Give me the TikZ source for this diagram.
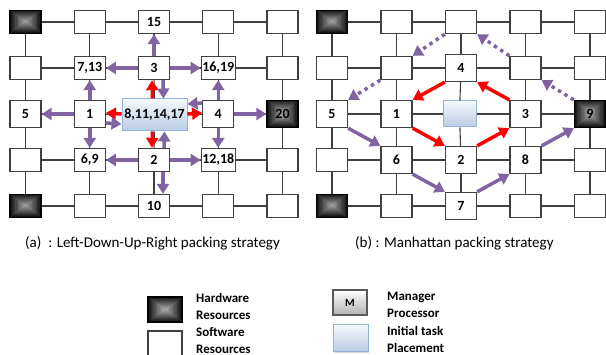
\documentclass[tikz,border=0pt]{standalone}
\usepackage{fontspec}
\setmainfont{Carlito}
\usetikzlibrary{arrows.meta,shadows}
\definecolor{arrpurple}{HTML}{8064A2}
\definecolor{initblue}{HTML}{B9CDE5}
\definecolor{initedge}{HTML}{95B3D7}

\begin{document}
\begin{tikzpicture}[x=1pt,y=-1pt,
    cell/.style={draw=black!75, line width=1.3pt, fill=white, minimum width=31pt,
      minimum height=23pt, inner sep=1pt, font=\fontsize{14}{16}\selectfont\bfseries},
    cellt/.style={cell, minimum height=27pt},
    hw/.style={cell, draw=black, path picture={
        \foreach \k in {0,...,11}
          \fill[black!\the\numexpr 92-5*\k\relax]
            ([shift={({\k*1.3pt},{-\k*1pt})}]path picture bounding box.north west) rectangle
            ([shift={({-\k*1.3pt},{\k*1pt})}]path picture bounding box.south east);}},
    hwt/.style={hw, minimum height=27pt},
    init/.style={draw=initedge, line width=1pt, top color=white!85!initblue,
      bottom color=initblue, inner sep=1pt, font=\fontsize{14}{16}\selectfont\bfseries},
    mgr/.style={draw=black!65, line width=1.2pt, top color=white, bottom color=gray!60,
      minimum width=34pt, minimum height=25pt, font=\fontsize{11}{13}\selectfont\bfseries,
      drop shadow={shadow xshift=1.2pt, shadow yshift=-1.2pt, opacity=0.35}},
    link/.style={draw=black!75, line width=1.1pt},
    parr/.style={draw=arrpurple, line width=3.5pt, -{Triangle[length=10pt,width=12pt]}},
    rarr/.style={parr, draw=red},
    darr/.style={parr, dash pattern=on 3.5pt off 4pt},
    note/.style={anchor=west, inner sep=0pt, align=left, font=\fontsize{13}{16.5}\selectfont\bfseries},
    caption/.style={anchor=west, inner sep=0pt, font=\fontsize{15}{18}\selectfont}]

    % Page
    \fill[white] (0,0) rectangle (606,355);
    \useasboundingbox (0,0) rectangle (606,355);

    % Left mesh (a)
    \foreach \c/\r/\s/\t in {1/1/hw/{}, 2/1/cell/{}, 3/1/cell/15, 4/1/cell/{}, 5/1/cell/{},
        1/2/cell/{}, 2/2/cell/{7,13}, 3/2/cell/3, 4/2/cell/{16,19}, 5/2/cell/{},
        1/3/cellt/5, 2/3/cellt/1, 4/3/cellt/4, 5/3/hwt/20,
        1/4/cell/{}, 2/4/cell/{6,9}, 3/4/cell/2, 4/4/cell/{12,18}, 5/4/cell/{},
        1/5/hw/{}, 2/5/cell/{}, 3/5/cell/10, 4/5/cell/{}, 5/5/cell/{}}
      \node[\s] (a-\c-\r) at ({25.5+64.25*(\c-1)},{22+46*(\r-1)}) {\t};
    \node[init, minimum width=65pt, minimum height=32pt] (a-3-3) at (154.5,115) {8,11,14,17};

    % Right mesh (b)
    \foreach \c/\r/\s/\t in {1/1/hw/{}, 2/1/cell/{}, 3/1/cell/{}, 4/1/cell/{}, 5/1/cell/{},
        1/2/cell/{}, 2/2/cell/{}, 3/2/cellt/4, 4/2/cell/{}, 5/2/cell/{},
        1/3/cellt/5, 2/3/cellt/1, 4/3/cellt/3, 5/3/hwt/9,
        1/4/cell/{}, 2/4/cellt/6, 3/4/cellt/2, 4/4/cellt/8, 5/4/cell/{},
        1/5/hw/{}, 2/5/cell/{}, 3/5/cellt/7, 4/5/cell/{}, 5/5/cell/{}}
      \node[\s] (b-\c-\r) at ({332+64.5*(\c-1)},{22+46*(\r-1)}) {\t};
    \node[init, minimum width=33pt, minimum height=26pt] (b-3-3) at (459.5,114) {};

    % Mesh links
    \foreach \g in {a,b}
      \foreach \c/\d in {1/2,2/3,3/4,4/5}
        \foreach \r in {1,...,5} {
          \draw[link] (\g-\c-\r) -- (\g-\d-\r);
          \draw[link] (\g-\r-\c) -- (\g-\r-\d);
        }

    % (a) first ring, from the initial placement
    \draw[rarr] ([xshift=-2pt]a-3-3.north) -- ([xshift=-2pt]a-3-2.south);
    \draw[rarr] ([yshift=1pt]a-3-3.west) -- ([yshift=1pt]a-2-3.east);
    \draw[rarr] ([yshift=1pt]a-3-3.east) -- ([yshift=1pt]a-4-3.west);
    \draw[rarr] ([xshift=-2pt]a-3-3.south) -- ([xshift=-2pt]a-3-4.north);
    % (a) back to the centre
    \draw[parr] ([xshift=9pt]a-3-2.south) -- ([xshift=9pt]a-3-3.north);
    \draw[parr] ([yshift=-9pt]a-2-3.east) -- ([yshift=-9pt]a-3-3.west);
    \draw[parr] ([yshift=11pt]a-4-3.west) -- ([yshift=11pt]a-3-3.east);
    \draw[parr] ([xshift=10pt]a-3-4.north) -- ([xshift=10pt]a-3-3.south);
    % (a) second ring
    \draw[parr] (a-3-2) -- (a-3-1);
    \draw[parr] (a-3-2) -- (a-2-2);
    \draw[parr] (a-3-2) -- (a-4-2);
    \draw[parr] (a-2-3) -- (a-1-3);
    \draw[parr] (a-2-3) -- (a-2-2);
    \draw[parr] (a-2-3) -- (a-2-4);
    \draw[parr] (a-4-3) -- (a-4-2);
    \draw[parr] (a-4-3) -- (a-5-3);
    \draw[parr] (a-4-3) -- (a-4-4);
    \draw[parr] (a-3-4) -- (a-2-4);
    \draw[parr] (a-3-4) -- (a-4-4);
    \draw[parr] ([xshift=9pt]a-3-4.south) -- ([xshift=9pt]a-3-5.north);

    % (b) Manhattan rings
    \draw[rarr] (b-3-2.south west) -- (b-2-3.north east);
    \draw[rarr] (b-2-3.south east) -- (b-3-4.north west);
    \draw[rarr] (b-3-4.north east) -- (b-4-3.south west);
    \draw[rarr] (b-4-3.north west) -- (b-3-2.south east);
    \draw[parr] (b-1-3.south east) -- (b-2-4.north west);
    \draw[parr] (b-2-4.south east) -- (b-3-5.north west);
    \draw[parr] (b-3-5.north east) -- (b-4-4.south west);
    \draw[parr] (b-4-4.north east) -- (b-5-3.south west);
    \draw[darr] (b-5-3.north west) -- (b-4-2.south east);
    \draw[darr] (b-4-2.north west) -- (b-3-1.south east);
    \draw[darr] (b-3-1.south west) -- (b-2-2.north east);
    \draw[darr] (b-2-2.south west) -- (b-1-3.north east);

    % Captions
    \node[caption] (capa) at (25,243) {(a)~~: Left-Down-Up-Right packing strategy};
    \node[caption] (capb) at (355,243) {(b) : Manhattan packing strategy};

    % Legend
    \node[hw, minimum width=34pt, minimum height=25pt] (hwkey) at (165,309.5) {};
    \node[note] (hwtext) at (196,306.5) {Hardware\\Resources};
    \node[cell, minimum width=34pt, minimum height=26pt] (swkey) at (165,344) {};
    \node[note] (swtext) at (196,340.5) {Software\\Resources};
    \node[mgr] (mkey) at (350,302.5) {M};
    \node[note] (mtext) at (387,305) {Manager\\Processor};
    \node[init, minimum width=35pt, minimum height=27pt,
      drop shadow={shadow xshift=1.2pt, shadow yshift=-1.2pt, opacity=0.3}] (ikey) at (350.5,338.5) {};
    \node[note] (itext) at (387,339.5) {Initial task\\Placement};
\end{tikzpicture}
\end{document}
